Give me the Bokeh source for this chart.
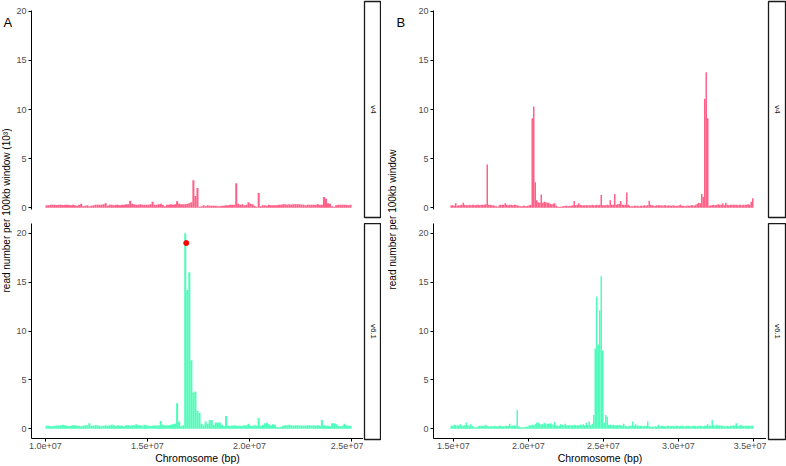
import math
from bokeh.plotting import figure
from bokeh.layouts import row, column
from bokeh.models import ColumnDataSource, Range1d, FixedTicker
from bokeh.core.properties import value
from bokeh.embed import file_html
from bokeh.resources import INLINE

# ---------------- data ----------------
bin_size = 100_000
start_A = 10_000_000
start_B = 14_800_000

v4_A = [
    0.25, 0.25, 0.3, 0.3, 0.3, 0.28, 0.3, 0.3, 0.28, 0.3,
    0.3, 0.28, 0.25, 0.3, 0.25, 0.2, 0.3, 0.4, 0.15, 0.2,
    0.25, 0.15, 0.2, 0.25, 0.3, 0.3, 0.3, 0.3, 0.35, 0.45,
    0.2, 0.3, 0.3, 0.25, 0.3, 0.3, 0.25, 0.3, 0.3, 0.35,
    0.35, 0.7, 0.4, 0.35, 0.3, 0.3, 0.35, 0.3, 0.3, 0.3,
    0.3, 0.35, 0.6, 0.3, 0.3, 0.35, 0.4, 0.3, 0.15, 0.3,
    0.3, 0.35, 0.3, 0.35, 0.65, 0.4, 0.35, 0.35, 0.35, 0.4,
    0.45, 0.55, 2.8, 1.2, 2.0, 0.1, 0.15, 0.25, 0.15, 0.25,
    0.2, 0.2, 0.2, 0.2, 0.15, 0.15, 0.2, 0.2, 0.25, 0.25,
    0.3, 0.3, 0.3, 2.5, 0.4, 0.3, 0.35, 0.25, 0.3, 0.55,
    0.4, 0.35, 0.2, 0.1, 1.5, 0.15, 0.25, 0.25, 0.2, 0.3,
    0.25, 0.25, 0.25, 0.25, 0.3, 0.3, 0.35, 0.35, 0.3, 0.35,
    0.3, 0.35, 0.35, 0.35, 0.35, 0.3, 0.3, 0.25, 0.3, 0.3,
    0.3, 0.3, 0.3, 0.35, 0.3, 0.3, 1.1, 0.9, 0.45, 0.4,
    0.15, 0.1, 0.25, 0.3, 0.3, 0.3, 0.3, 0.3, 0.25, 0.3,
]

v61_A = [
    0.3, 0.3, 0.25, 0.25, 0.3, 0.3, 0.3, 0.35, 0.4, 0.35,
    0.3, 0.25, 0.3, 0.35, 0.35, 0.3, 0.3, 0.25, 0.3, 0.35,
    0.35, 0.55, 0.3, 0.3, 0.35, 0.35, 0.3, 0.25, 0.3, 0.35,
    0.3, 0.35, 0.4, 0.35, 0.3, 0.35, 0.3, 0.3, 0.25, 0.35,
    0.35, 0.3, 0.35, 0.35, 0.45, 0.35, 0.35, 0.3, 0.4, 0.35,
    0.3, 0.3, 0.3, 0.35, 0.3, 0.35, 0.8, 0.4, 0.35, 0.35,
    0.35, 0.4, 0.45, 0.5, 2.6, 0.75, 0.25, 0.35, 20.0, 14.2,
    16.0, 7.0, 3.7, 3.8, 1.85, 1.6, 0.5, 0.35, 0.75, 0.5,
    0.9, 0.9, 0.4, 0.65, 0.65, 0.65, 0.4, 0.25, 1.3, 0.3,
    0.3, 0.3, 0.35, 0.3, 0.3, 0.3, 0.3, 0.35, 0.35, 0.5,
    0.3, 0.3, 0.35, 0.3, 1.1, 0.3, 0.4, 0.55, 0.6, 0.45,
    0.35, 0.45, 0.4, 0.15, 0.15, 0.2, 0.3, 0.35, 0.35, 0.4,
    0.35, 0.3, 0.35, 0.35, 0.3, 0.35, 0.3, 0.3, 0.35, 0.35,
    0.3, 0.35, 0.3, 0.35, 0.3, 0.9, 0.35, 0.3, 0.3, 0.25,
    0.55, 0.55, 0.45, 0.3, 0.25, 0.3, 0.5, 0.35, 0.3, 0.3,
]

v4_B = [
    0.25, 0.25, 0.2, 0.45, 0.2, 0.25, 0.25, 0.3, 0.5, 0.3,
    0.25, 0.25, 0.3, 0.25, 0.3, 0.3, 0.25, 0.3, 0.3, 0.25,
    0.3, 0.3, 0.3, 0.35, 4.4, 0.3, 0.3, 0.25, 0.25, 0.2,
    0.15, 0.1, 0.25, 0.3, 0.3, 0.3, 0.45, 0.3, 0.25, 0.3,
    0.3, 0.25, 0.3, 0.3, 0.25, 0.2, 0.15, 0.15, 0.2, 0.2,
    0.15, 0.2, 0.25, 0.3, 9.1, 10.3, 2.6, 0.75, 0.55, 0.5,
    1.35, 0.5, 0.6, 0.55, 0.5, 0.5, 0.4, 0.35, 0.4, 0.45,
    0.2, 0.1, 0.1, 0.1, 0.15, 0.15, 0.2, 0.2, 0.15, 0.2,
    0.2, 0.25, 0.67, 0.25, 0.3, 0.45, 0.3, 0.25, 0.25, 0.25,
    0.25, 0.25, 0.25, 0.25, 0.3, 0.25, 0.25, 0.3, 0.25, 0.3,
    1.3, 0.25, 0.25, 0.25, 0.3, 0.25, 0.75, 0.3, 0.3, 1.4,
    0.3, 0.35, 0.4, 0.67, 0.3, 0.3, 0.3, 1.55, 0.3, 0.2,
    0.15, 0.15, 0.2, 0.2, 0.2, 0.15, 0.2, 0.2, 0.2, 0.25,
    0.2, 0.25, 0.7, 0.3, 0.25, 0.2, 0.2, 0.25, 0.25, 0.25,
    0.25, 0.2, 0.25, 0.25, 0.2, 0.25, 0.2, 0.2, 0.25, 0.2,
    0.2, 0.2, 0.25, 0.3, 0.2, 0.2, 0.15, 0.2, 0.2, 0.2,
    0.25, 0.25, 0.2, 0.3, 0.4, 0.5, 0.45, 1.4, 1.1, 11.1,
    13.8, 9.1, 0.2, 0.25, 0.25, 0.3, 0.25, 0.3, 0.35, 0.3,
    0.3, 0.45, 0.25, 0.5, 0.3, 0.25, 0.3, 0.3, 0.3, 0.3,
    0.3, 0.25, 0.3, 0.3, 0.25, 0.3, 0.3, 0.3, 0.35, 0.3,
    0.6, 0.95,
]

v61_B = [
    0.3, 0.3, 0.4, 0.35, 0.3, 0.35, 0.45, 0.3, 0.3, 0.35,
    0.65, 0.35, 0.3, 0.45, 0.3, 0.2, 0.15, 0.15, 0.25, 0.3,
    0.3, 0.3, 0.3, 0.4, 0.3, 0.25, 0.25, 0.25, 0.25, 0.3,
    0.25, 0.25, 0.3, 0.3, 0.25, 0.25, 0.3, 0.3, 0.3, 0.5,
    0.3, 0.3, 0.35, 0.3, 1.95, 0.25, 0.15, 0.15, 0.15, 0.15,
    0.2, 0.2, 0.35, 0.35, 0.4, 0.35, 0.45, 0.6, 0.65, 0.5,
    0.45, 0.45, 0.6, 0.45, 0.5, 0.5, 0.55, 0.45, 0.4, 0.7,
    0.35, 0.3, 0.3, 0.45, 0.4, 0.35, 0.5, 0.35, 0.35, 0.35,
    0.35, 0.35, 0.4, 0.35, 0.35, 0.35, 0.4, 0.35, 0.45, 0.35,
    0.6, 0.4, 0.75, 0.35, 0.5, 1.4, 8.2, 13.5, 8.6, 12.1,
    15.6, 8.0, 0.6, 1.4, 1.25, 0.4, 0.4, 0.35, 0.4, 0.35,
    0.35, 0.35, 0.4, 0.35, 0.3, 0.5, 0.3, 0.25, 0.25, 0.3,
    0.3, 0.75, 0.3, 0.45, 0.3, 0.3, 0.3, 0.3, 0.25, 0.3,
    0.3, 0.75, 0.25, 0.2, 0.2, 0.2, 0.25, 0.2, 0.4, 0.25,
    0.3, 0.3, 0.25, 0.25, 0.3, 0.3, 0.25, 0.3, 0.3, 0.25,
    0.3, 0.3, 0.25, 0.3, 0.3, 0.25, 0.25, 0.3, 0.3, 0.25,
    0.25, 0.3, 0.3, 0.25, 0.25, 0.3, 0.3, 0.25, 0.25, 0.3,
    0.3, 0.45, 0.3, 0.3, 0.9, 0.35, 0.3, 0.4, 0.3, 0.35,
    0.3, 0.3, 0.25, 0.25, 0.3, 0.25, 0.3, 0.3, 0.35, 0.3,
    0.55, 0.3, 0.3, 0.4, 0.3, 0.3, 0.3, 0.3, 0.3, 0.3,
    0.3, 0.3,
]

marker_x = [16_900_000]
marker_y = [19.0]

y_ticks = [0, 5, 10, 15, 20]
x_ticks_A = [10_000_000, 15_000_000, 20_000_000, 25_000_000]
x_tick_labels_A = ["1.0e+07", "1.5e+07", "2.0e+07", "2.5e+07"]
x_ticks_B = [15_000_000, 20_000_000, 25_000_000, 30_000_000, 35_000_000]
x_tick_labels_B = ["1.5e+07", "2.0e+07", "2.5e+07", "3.0e+07", "3.5e+07"]

strip_labels = ["v4", "v6.1"]
y_label_A = "read number per 100kb window (10³)"
y_label_B = "read number per 100kb window"
x_label = "Chromosome (bp)"

PINK = "#FF6088"
GREEN = "#4FFDBA"
FONT = "Liberation Sans"

FRAME_H = 216
TOP_MT, TOP_MB = 1, 6
BOT_MB = 27
TOP_H = TOP_MT + FRAME_H + TOP_MB
BOT_H = FRAME_H + BOT_MB
TOTAL_H = TOP_H + BOT_H
AXIS_W = 19


def centers(start, n):
    return [start + (i + 0.5) * bin_size for i in range(n)]


def panel(width, height, mbl, mbr, mbt, mbb, xr, start, vals, color, ticks=None, labels=None):
    bottom = ticks is not None
    p = figure(width=width, height=height, x_range=Range1d(*xr), y_range=Range1d(-1, 21),
               output_backend="svg", toolbar_location=None,
               x_axis_location="below" if bottom else None,
               min_border_left=mbl, min_border_right=mbr, min_border_top=mbt, min_border_bottom=mbb)
    p.outline_line_color = None
    p.grid.visible = False
    p.background_fill_color = "white"
    src = ColumnDataSource(dict(x=centers(start, len(vals)), top=vals))
    p.vbar(x="x", top="top", bottom=0, width=bin_size, source=src,
           fill_color=color, line_color=None)
    ya = p.yaxis[0]
    ya.ticker = FixedTicker(ticks=y_ticks, minor_ticks=[])
    ya.axis_line_color = "black"
    ya.axis_line_width = 1
    ya.major_tick_line_color = "black"
    ya.major_tick_out = 3
    ya.major_tick_in = 0
    ya.minor_tick_line_color = None
    ya.major_label_standoff = 2
    ya.major_label_text_font_size = "9px"
    ya.major_label_text_color = "#4D4D4D"
    ya.major_label_text_font = FONT
    if not bottom:
        ya.bounds = (-0.2, 20.1)
    if bottom:
        xa = p.xaxis[0]
        xa.ticker = FixedTicker(ticks=ticks, minor_ticks=[])
        xa.major_label_overrides = {t: l for t, l in zip(ticks, labels)}
        xa.axis_line_color = "black"
        xa.major_tick_line_color = "black"
        xa.major_tick_out = 3
        xa.major_tick_in = 0
        xa.minor_tick_line_color = None
        xa.major_label_standoff = 1
        xa.major_label_text_font_size = "9px"
        xa.major_label_text_color = "#4D4D4D"
        xa.major_label_text_font = FONT
        xa.axis_label = x_label
        xa.axis_label_standoff = 0
        xa.axis_label_text_font_size = "10.5px"
        xa.axis_label_text_font_style = "normal"
        xa.axis_label_text_font = FONT
        xa.axis_label_text_color = "black"
    return p


def strip(label, height, mbl, mbr, mbt, mbb):
    s = figure(width=mbl + 17 + mbr, height=height, x_range=Range1d(0, 1), y_range=Range1d(0, 1),
               output_backend="svg", toolbar_location=None,
               x_axis_location=None, y_axis_location=None,
               min_border_left=mbl, min_border_right=mbr, min_border_top=mbt, min_border_bottom=mbb)
    s.grid.visible = False
    s.outline_line_color = "#1A1A1A"
    s.outline_line_width = 1.3
    s.text(x=[0.5], y=[0.5], text=[label], angle=-math.pi / 2,
           text_align="center", text_baseline="middle",
           text_font_size="8px", text_font=value(FONT), text_color="#1A1A1A")
    return s


def label_fig(width, ylabel, ylabel_x, ylabel_center, tag, tag_x):
    f = figure(width=width, height=TOTAL_H, x_range=Range1d(0, width), y_range=Range1d(0, TOTAL_H),
               output_backend="svg", toolbar_location=None,
               x_axis_location=None, y_axis_location=None, min_border=0)
    f.grid.visible = False
    f.outline_line_color = None
    f.text(x=[ylabel_x], y=[TOTAL_H - ylabel_center], text=[ylabel], angle=math.pi / 2,
           text_align="center", text_baseline="middle",
           text_font_size="10px", text_font=value(FONT), text_color="black")
    f.text(x=[tag_x], y=[TOTAL_H - 14], text=[tag], text_align="left", text_baseline="top",
           text_font_size="13px", text_font=value(FONT), text_color="black")
    return f


xr_A = (9_314_000, 25_588_000)
xr_B = (13_667_000, 35_867_000)

# widths: 12 + 351 + 18 + 33 + 352 + 20 = 786
labA = label_fig(12, y_label_A, 6, 210, "A", 3)
pA1 = panel(AXIS_W + 332, TOP_H, AXIS_W, 0, TOP_MT, TOP_MB, xr_A, start_A, v4_A, PINK)
pA2 = panel(AXIS_W + 332, BOT_H, AXIS_W, 0, 0, BOT_MB, xr_A, start_A, v61_A, GREEN, x_ticks_A, x_tick_labels_A)
pA2.scatter(x=marker_x, y=marker_y, size=5, fill_color="red", line_color="red")
sA1 = strip(strip_labels[0], TOP_H, 1, 0, TOP_MT, TOP_MB)
sA2 = strip(strip_labels[1], BOT_H, 1, 0, 0, BOT_MB)

labB = label_fig(33, y_label_B, 11, 219, "B", 15)
pB1 = panel(AXIS_W + 333, TOP_H, AXIS_W, 0, TOP_MT, TOP_MB, xr_B, start_B, v4_B, PINK)
pB2 = panel(AXIS_W + 333, BOT_H, AXIS_W, 0, 0, BOT_MB, xr_B, start_B, v61_B, GREEN, x_ticks_B, x_tick_labels_B)
sB1 = strip(strip_labels[0], TOP_H, 2, 1, TOP_MT, TOP_MB)
sB2 = strip(strip_labels[1], BOT_H, 2, 1, 0, BOT_MB)

layout = row(
    labA,
    column(pA1, pA2, spacing=0),
    column(sA1, sA2, spacing=0),
    labB,
    column(pB1, pB2, spacing=0),
    column(sB1, sB2, spacing=0),
    spacing=0,
)

open("out.html", "w").write(file_html(layout, INLINE))
